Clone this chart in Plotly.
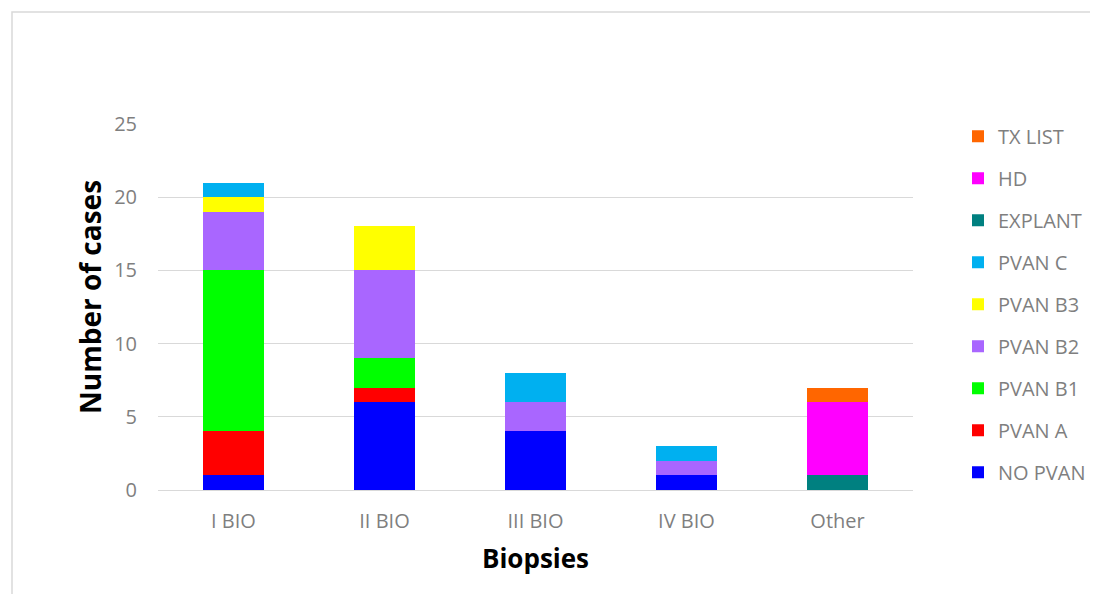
import plotly.graph_objects as go

categories = ["I BIO", "II BIO", "III BIO", "IV BIO", "Other"]
series_names = ["NO PVAN", "PVAN A", "PVAN B1", "PVAN B2", "PVAN B3", "PVAN C", "EXPLANT", "HD", "TX LIST"]
no_pvan = [1, 6, 4, 1, 0]
pvan_a = [3, 1, 0, 0, 0]
pvan_b1 = [11, 2, 0, 0, 0]
pvan_b2 = [4, 6, 2, 1, 0]
pvan_b3 = [1, 3, 0, 0, 0]
pvan_c = [1, 0, 2, 1, 0]
explant = [0, 0, 0, 0, 1]
hd = [0, 0, 0, 0, 5]
tx_list = [0, 0, 0, 0, 1]
y_ticks = [0, 5, 10, 15, 20, 25]

series_values = [no_pvan, pvan_a, pvan_b1, pvan_b2, pvan_b3, pvan_c, explant, hd, tx_list]
colors = ["#0000FF", "#FF0000", "#00FF00", "#A966FF", "#FFFF00", "#00B0F0", "#008080", "#FF00FF", "#FF6600"]

fig = go.Figure()
n = len(series_names)
for i, (name, vals, col) in enumerate(zip(series_names, series_values, colors)):
    fig.add_trace(go.Bar(
        x=categories, y=vals, name=name, legendgroup=name,
        legendrank=1000 + (n - i),
        marker=dict(color=col, line=dict(width=0)),
    ))

font_fam = "Open Sans, Noto Sans, sans-serif"
L, T, R, B = 150, 116, 193, 112
PW, PH = 1098 - L - R, 594 - T - B
fig.update_layout(
    barmode="stack",
    bargap=0.6,
    width=1098, height=594,
    margin=dict(l=L, r=R, t=T, b=B, autoexpand=False),
    plot_bgcolor="white", paper_bgcolor="white",
    font=dict(family=font_fam, size=20, color="#7F7F7F"),
    legend=dict(
        traceorder="grouped",
        tracegroupgap=13,
        x=(958 - 8 - L) / PW, xanchor="left", y=1.02, yanchor="top",
        font=dict(size=20, color="#7F7F7F"),
        itemwidth=30,
        maxheight=1.0,
    ),
    xaxis=dict(
        showgrid=False, showline=False, ticks="",
        tickfont=dict(size=20, color="#7F7F7F"),
        ticklabelstandoff=17,
        title=dict(text="<b>Biopsies</b>", font=dict(size=26, color="black"), standoff=16),
    ),
    yaxis=dict(
        range=[0, 25], tickvals=y_ticks,
        showgrid=True, gridcolor="#D9D9D9", gridwidth=1,
        zeroline=True, zerolinecolor="#D9D9D9", zerolinewidth=1,
        showline=False, ticks="",
        tickfont=dict(size=20, color="#7F7F7F"),
        ticklabelstandoff=20,
    ),
    annotations=[dict(
        text="<b>Number of cases</b>", textangle=-90, showarrow=False,
        xref="paper", yref="paper",
        x=(82 - L) / PW, y=1 - (289 - T) / PH,
        xanchor="center", yanchor="middle",
        font=dict(size=28, color="black", family=font_fam),
    )],
    shapes=[dict(
        type="rect", xref="paper", yref="paper",
        x0=(4 - L) / PW, x1=(1120 - L) / PW,
        y0=-(620 - T - PH) / PH, y1=1 + (T - 4) / PH,
        line=dict(color="#D9D9D9", width=1.5), fillcolor="rgba(0,0,0,0)", layer="below",
    )],
)

fig.write_html("out.html")
